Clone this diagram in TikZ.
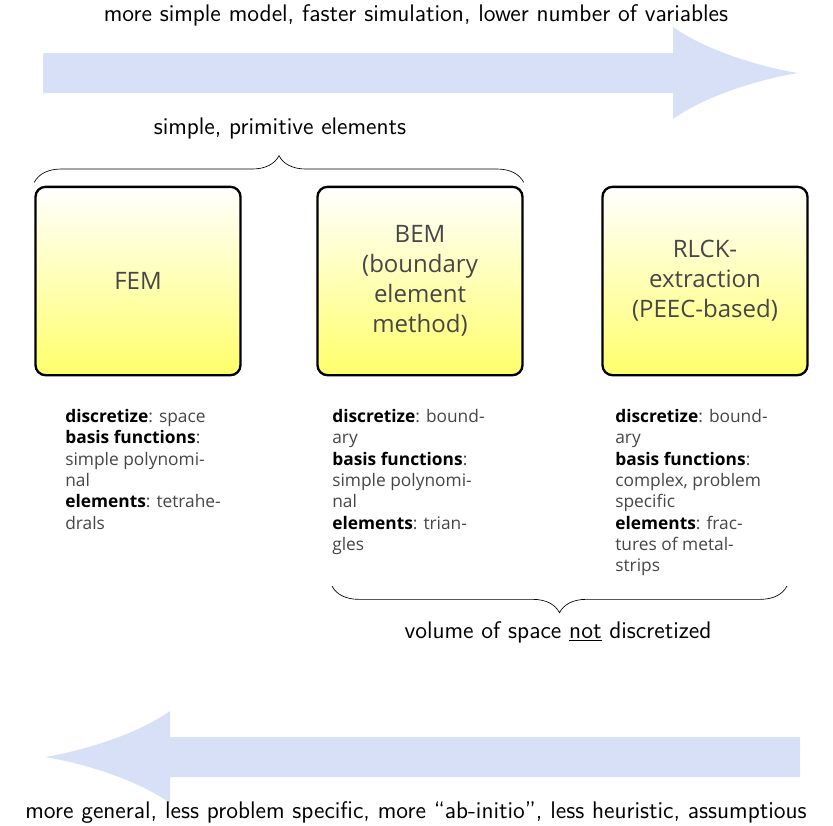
\documentclass[tikz,border=0pt]{standalone}
\usepackage{fontspec}
\newfontfamily\boxfont{Open Sans}
\usetikzlibrary{decorations.pathreplacing}
\definecolor{arrowblue}{RGB}{216,224,247}
\definecolor{boxtext}{RGB}{70,70,70}
\newcommand{\keyw}[1]{\textcolor{black}{\textbf{#1}}}
\tikzset{
  methodbox/.style={draw=black, line width=1.4pt, rounded corners=6pt,
    top color=white, bottom color=yellow!58,
    minimum width=123pt, minimum height=113pt,
    align=center, font=\boxfont\Large, text=boxtext},
  infotext/.style={anchor=north west, align=left, inner sep=0pt,
    font=\boxfont\fontsize{10.4}{12.8}\selectfont, text=boxtext},
  outertext/.style={font=\sffamily\Large},
  bracedeco/.style={decorate, decoration={brace, amplitude=#1}, thin},
  bigarrow/.style={fill=arrowblue}
}
\begin{document}
\begin{tikzpicture}[x=0.6pt,y=-0.6pt]
  \useasboundingbox (0,0) rectangle (833,825);

  % direction arrows
  \node[outertext] (simpler) at (416,15) {more simple model, faster simulation, lower number of variables};
  \fill[bigarrow] (43,53) -- (673,53) -- (673,27) .. controls (713,55) and (773,69) .. (798,73)
    .. controls (773,77) and (713,91) .. (673,119) -- (673,93) -- (43,93) -- cycle;

  \fill[bigarrow] (800,737) -- (170,737) -- (170,711) .. controls (130,739) and (70,753) .. (45,757)
    .. controls (70,761) and (130,775) .. (170,803) -- (170,777) -- (800,777) -- cycle;
  \node[outertext] (general) at (416,812) {more general, less problem specific, more ``ab-initio'', less heuristic, assumptious};

  % methods
  \node[methodbox] (fem) at (138,281) {FEM};
  \node[methodbox] (bem) at (420,281) {BEM\\(boundary\\element\\method)};
  \node[methodbox] (rlck) at (705,281) {RLCK-\\extraction\\(PEEC-based)};

  \node[infotext] (feminfo) at (65,409) {\keyw{discretize}: space\\\keyw{basis functions}:\\simple polynomi-\\nal\\\keyw{elements}: tetrahe-\\drals};
  \node[infotext] (beminfo) at (332,409) {\keyw{discretize}: bound-\\ary\\\keyw{basis functions}:\\simple polynomi-\\nal\\\keyw{elements}: trian-\\gles};
  \node[infotext] (rlckinfo) at (615,409) {\keyw{discretize}: bound-\\ary\\\keyw{basis functions}:\\complex, problem\\specific\\\keyw{elements}: frac-\\tures of metal-\\strips};

  % braces
  \draw[bracedeco=16pt] ([yshift=2pt]fem.north west) -- ([yshift=2pt]bem.north east);
  \node[outertext] (primitive) at (280,128) {simple, primitive elements};

  \coordinate (braceright) at (787,586);
  \coordinate (braceleft) at (332,586);
  \draw[bracedeco=16pt] (braceright) -- (braceleft);
  \node[outertext] (volume) at (558,632) {volume of space \underline{not} discretized};

\end{tikzpicture}
\end{document}
